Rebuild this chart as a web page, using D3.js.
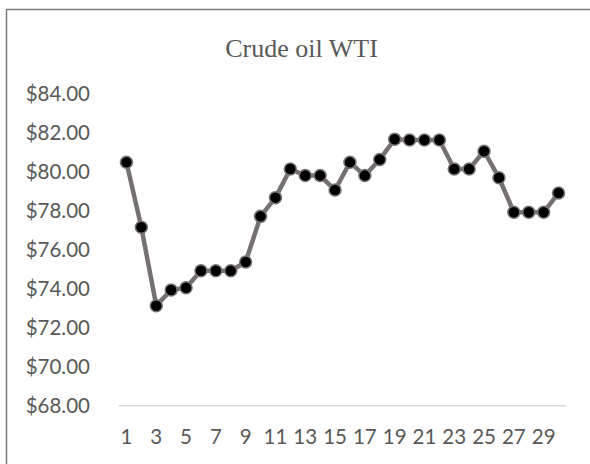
<!DOCTYPE html>
<html>
<head>
<meta charset="utf-8">
<script src="https://cdn.jsdelivr.net/npm/d3@7"></script>
<style>
  html, body { margin: 0; padding: 0; background: #fff; }
  svg { display: block; }
</style>
</head>
<body>
<svg id="chart" width="590" height="464"></svg>
<script>
const title = "Crude oil WTI";
const days = d3.range(1, 31);
const prices = [80.48, 77.15, 73.13, 73.93, 74.05, 74.92, 74.92, 74.92, 75.37, 77.71,
                78.67, 80.14, 79.80, 79.80, 79.06, 80.48, 79.80, 80.63, 81.66, 81.63,
                81.63, 81.63, 80.14, 80.14, 81.05, 79.69, 77.92, 77.92, 77.92, 78.91];
const yTicks = [68, 70, 72, 74, 76, 78, 80, 82, 84];
const xTickLabels = [1, 3, 5, 7, 9, 11, 13, 15, 17, 19, 21, 23, 25, 27, 29];

const svg = d3.select("#chart");

// chart border (extends beyond the image right/bottom)
svg.append("rect")
  .attr("x", 6.5).attr("y", 9.5)
  .attr("width", 700).attr("height", 600)
  .attr("fill", "#fff")
  .attr("stroke", "#7a7a7a")
  .attr("stroke-width", 1.5);

const x = d3.scaleBand().domain(days).range([119, 566]).padding(0);
const y = d3.scaleLinear().domain([68, 84]).range([405.7, 93.7]);

// title
svg.append("text")
  .attr("x", 301.5).attr("y", 57)
  .attr("text-anchor", "middle")
  .attr("font-family", "'Liberation Serif', 'Times New Roman', serif")
  .attr("font-size", 26)
  .attr("fill", "#595959")
  .text(title);

// y axis labels
const yAxis = d3.axisLeft(y)
  .tickValues(yTicks)
  .tickSize(0)
  .tickPadding(0)
  .tickFormat(d => "$" + d.toFixed(2));
const gy = svg.append("g").attr("transform", "translate(90,0)").call(yAxis);
gy.select(".domain").remove();
gy.selectAll("text")
  .attr("font-family", "Lato, 'Open Sans', sans-serif")
  .attr("font-size", 20.5)
  .attr("fill", "#595959");

// baseline
svg.append("line")
  .attr("x1", x.range()[0]).attr("x2", x.range()[1])
  .attr("y1", y(68)).attr("y2", y(68))
  .attr("stroke", "#d9d9d9")
  .attr("stroke-width", 1.5);

// x axis labels
const xAxis = d3.axisBottom(x)
  .tickValues(xTickLabels)
  .tickSize(0)
  .tickPadding(0);
const gx = svg.append("g").attr("transform", "translate(0,429)").call(xAxis);
gx.select(".domain").remove();
gx.selectAll("text")
  .attr("font-family", "Lato, 'Open Sans', sans-serif")
  .attr("font-size", 20.5)
  .attr("fill", "#595959");

const data = days.map((d, i) => ({ day: d, price: prices[i] }));
const cx = d => x(d.day) + x.bandwidth() / 2;

svg.append("path")
  .datum(data)
  .attr("fill", "none")
  .attr("stroke", "#767171")
  .attr("stroke-width", 4.5)
  .attr("stroke-linejoin", "round")
  .attr("d", d3.line().x(cx).y(d => y(d.price)));

svg.append("g").selectAll("circle")
  .data(data)
  .join("circle")
  .attr("cx", cx)
  .attr("cy", d => y(d.price))
  .attr("r", 6)
  .attr("fill", "#000")
  .attr("stroke", "#7a7676")
  .attr("stroke-width", 1.5);
</script>
</body>
</html>
